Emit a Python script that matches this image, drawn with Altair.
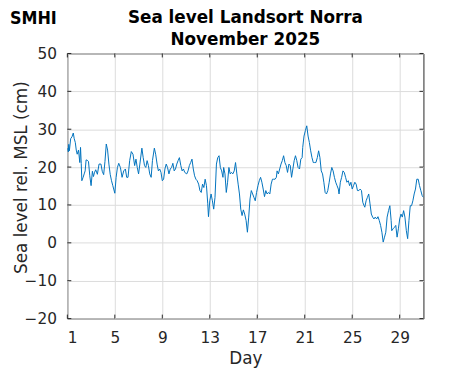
import altair as alt
import pandas as pd

days = [1.00, 1.08, 1.12, 1.17, 1.28, 1.39, 1.50, 1.58, 1.67, 1.75, 1.83, 1.94, 2.05, 2.11, 2.17,
        2.22, 2.33, 2.42, 2.50, 2.58, 2.67, 2.78, 2.89, 3.00, 3.11, 3.20, 3.28, 3.39, 3.53, 3.67,
        3.83, 3.94, 4.06, 4.17, 4.28, 4.39, 4.50, 4.61, 4.72, 4.83, 5.00, 5.11, 5.22, 5.33, 5.47,
        5.61, 5.75, 5.89, 6.00, 6.11, 6.25, 6.39, 6.53, 6.67, 6.78, 6.89, 7.00, 7.11, 7.28, 7.39,
        7.50, 7.61, 7.72, 7.83, 7.94, 8.06, 8.17, 8.33, 8.44, 8.56, 8.67, 8.78, 8.89, 9.00, 9.11,
        9.22, 9.33, 9.44, 9.56, 9.67, 9.78, 9.89, 10.00, 10.11, 10.22, 10.33, 10.44, 10.56, 10.67,
        10.78, 10.89, 11.06, 11.17, 11.28, 11.39, 11.50, 11.61, 11.72, 11.83, 11.94, 12.06, 12.17,
        12.28, 12.39, 12.50, 12.61, 12.72, 12.83, 12.89, 13.00, 13.11, 13.22, 13.33, 13.44, 13.56,
        13.67, 13.78, 13.89, 14.00, 14.11, 14.17, 14.28, 14.39, 14.50, 14.61, 14.72, 14.83, 14.94,
        15.06, 15.17, 15.28, 15.39, 15.50, 15.61, 15.72, 15.83, 15.94, 16.06, 16.17, 16.28, 16.39,
        16.50, 16.61, 16.72, 16.83, 16.94, 17.06, 17.17, 17.28, 17.39, 17.50, 17.61, 17.72, 17.83,
        17.94, 18.06, 18.17, 18.28, 18.39, 18.50, 18.61, 18.67, 18.78, 18.89, 19.00, 19.11, 19.22,
        19.33, 19.44, 19.55, 19.67, 19.78, 19.89, 20.00, 20.11, 20.22, 20.33, 20.44, 20.56, 20.67,
        20.78, 20.83, 20.94, 21.06, 21.17, 21.28, 21.39, 21.50, 21.61, 21.72, 21.83, 21.94, 22.06,
        22.17, 22.28, 22.39, 22.50, 22.61, 22.72, 22.83, 22.94, 23.06, 23.17, 23.28, 23.39, 23.50,
        23.61, 23.72, 23.83, 23.89, 24.00, 24.11, 24.22, 24.33, 24.44, 24.55, 24.67, 24.78, 24.89,
        25.00, 25.11, 25.22, 25.33, 25.44, 25.56, 25.67, 25.78, 25.89, 26.00, 26.06, 26.17, 26.28,
        26.39, 26.50, 26.61, 26.72, 26.83, 26.94, 27.06, 27.17, 27.28, 27.39, 27.50, 27.61, 27.72,
        27.83, 27.94, 28.06, 28.17, 28.28, 28.33, 28.44, 28.56, 28.67, 28.78, 28.89, 29.00, 29.11,
        29.22, 29.33, 29.44, 29.56, 29.67, 29.78, 29.89, 30.00, 30.11, 30.22, 30.33, 30.44, 30.56,
        30.67, 30.78, 30.89, 31.00]

levels = [25.0, 24.0, 26.0, 24.3, 27.5, 28.0, 29.0, 27.5, 26.5, 24.5, 23.4, 24.5, 21.2, 25.2, 21.0,
          16.4, 17.3, 18.2, 19.0, 21.9, 21.8, 21.5, 17.7, 15.1, 18.9, 17.5, 18.5, 19.3, 18.1, 20.8,
          20.8, 18.9, 18.0, 21.5, 26.1, 24.5, 20.8, 18.1, 16.4, 15.1, 13.1, 17.3, 19.9, 21.0, 19.9,
          17.3, 19.0, 19.5, 17.3, 17.3, 21.7, 24.1, 23.4, 20.4, 22.1, 19.9, 18.2, 20.8, 25.0, 22.5,
          20.4, 19.9, 21.7, 20.4, 18.2, 17.3, 21.7, 25.0, 23.4, 20.8, 19.0, 19.5, 18.6, 16.4, 16.8,
          19.5, 20.8, 19.9, 18.2, 19.5, 19.9, 21.0, 19.0, 19.5, 20.8, 21.7, 22.5, 20.4, 19.0,
          19.5, 18.6, 18.2, 19.0, 20.4, 21.2, 22.1, 19.5, 17.7, 16.8, 16.4, 15.5, 13.8,
          13.3, 15.5, 14.6, 16.8, 15.1, 10.3, 6.9, 11.1, 12.9, 11.1, 8.9, 12.0, 20.8,
          22.5, 23.0, 19.9, 19.0, 17.3, 19.9, 18.2, 13.3, 16.0, 19.9, 18.2, 18.6, 18.2,
          19.0, 21.2, 18.2, 15.5, 12.9, 8.9, 7.2, 8.7, 7.6, 5.9, 2.8, 6.8, 11.6,
          13.8, 12.9, 12.0, 11.1, 13.3, 15.1, 16.4, 17.3, 16.0, 14.2, 12.2, 13.8, 12.9,
          13.3, 12.9, 15.5, 16.8, 16.8, 16.8, 17.3, 19.0, 18.2, 19.5, 20.8, 21.7, 23.0,
          21.2, 20.4, 18.6, 20.8, 20.4, 17.3, 19.5, 21.7, 23.0, 21.7, 19.9, 19.5, 22.1,
          22.5, 25.2, 28.2, 29.7, 30.9, 28.2, 26.5, 24.3, 22.5, 21.2, 21.2, 21.2, 22.5,
          24.3, 22.5, 19.0, 18.2, 16.0, 13.3, 12.9, 13.8, 16.0, 18.2, 19.9, 19.0, 17.3,
          16.0, 15.1, 14.2, 12.9, 16.0, 17.3, 19.0, 18.6, 17.3, 16.0, 16.4, 15.1, 16.0,
          14.2, 15.1, 16.0, 15.5, 13.8, 13.8, 14.2, 13.8, 10.7, 9.8, 9.4, 11.1, 12.0,
          12.9, 10.3, 7.6, 6.8, 6.3, 6.8, 6.3, 6.9, 5.9, 4.6, 2.8, 0.2, 1.5,
          2.8, 6.8, 8.5, 9.8, 5.9, 3.2, 3.7, 4.1, 4.6, 1.5, 3.7, 6.3, 7.6,
          6.8, 8.5, 6.8, 3.2, 1.1, 5.9, 9.8, 9.8, 11.1, 12.9, 14.2, 16.8, 16.8,
          15.1, 13.8, 12.5, 12.0]

x_ticks = [1, 5, 9, 13, 17, 21, 25, 29]
y_ticks = [-20, -10, 0, 10, 20, 30, 40, 50]
title_line1 = ["Sea level Landsort Norra"]
title_line2 = ["November 2025"]
x_label = "Day"
y_label = "Sea level rel. MSL (cm)"
logo = ["SMHI"]

W, H = 360, 268
FONT = "DejaVu Sans"
FRAME = "#262626"
TICK_LEN = 4

df = pd.DataFrame({"day": days, "level": levels})
xt = pd.DataFrame({"day": x_ticks})
yt = pd.DataFrame({"level": y_ticks})

xs = alt.Scale(domain=[1, 31], nice=False, zero=False)
ys = alt.Scale(domain=[-20, 50], nice=False, zero=False)

x_axis = alt.Axis(values=x_ticks, title=x_label, format="d", labelPadding=12,
                  titleBaseline="alphabetic", titleY=45)
y_axis = alt.Axis(values=y_ticks, title=y_label, format="d", labelPadding=11,
                  titleBaseline="alphabetic", titleX=-41, titleY=125)

X = alt.X("day:Q", scale=xs, axis=x_axis)
Y = alt.Y("level:Q", scale=ys, axis=y_axis)

line = alt.Chart(df).mark_line(color="#0072BD", strokeWidth=1, clip=True).encode(x=X, y=Y)

tick_bottom = alt.Chart(xt).mark_rule(color=FRAME).encode(
    x=X, y=alt.value(H), y2=alt.value(H - TICK_LEN))
tick_top = alt.Chart(xt).mark_rule(color=FRAME).encode(
    x=X, y=alt.value(0), y2=alt.value(TICK_LEN))
tick_left = alt.Chart(yt).mark_rule(color=FRAME).encode(
    y=Y, x=alt.value(0), x2=alt.value(TICK_LEN))
tick_right = alt.Chart(yt).mark_rule(color=FRAME).encode(
    y=Y, x=alt.value(W), x2=alt.value(W - TICK_LEN))


def label_layer(lines, x, y, align, font, size, weight):
    return alt.Chart(pd.DataFrame({"t": lines})).mark_text(
        align=align, baseline="alphabetic", font=font, fontSize=size,
        fontWeight=weight, color="black"
    ).encode(text="t:N", x=alt.value(x), y=alt.value(y))


logo_text = label_layer(logo, -58, -30, "left",
                        "DejaVu Sans Condensed, Liberation Sans Narrow, Liberation Sans, sans-serif",
                        18, "bold")
title1 = label_layer(title_line1, W / 2, -31, "center", FONT, 17, "bold")
title2 = label_layer(title_line2, W / 2, -9, "center", FONT, 17, "bold")

chart = alt.layer(line, tick_bottom, tick_top, tick_left, tick_right,
                  logo_text, title1, title2).properties(
    width=W, height=H,
    autosize=alt.AutoSizeParams(type="none"),
    padding={"left": 60, "top": 44, "right": 40, "bottom": 49},
).configure_view(
    stroke=FRAME, strokeWidth=1
).configure_axis(
    labelFont=FONT, labelFontSize=15.5, labelColor="#262626",
    titleFont=FONT, titleFontSize=17, titleFontWeight="normal", titleColor="#262626",
    ticks=False, tickSize=0, domain=False,
    grid=True, gridColor="#dcdcdc", gridWidth=1,
)

chart.save("out.html", embed_options={"renderer": "svg", "actions": False})
